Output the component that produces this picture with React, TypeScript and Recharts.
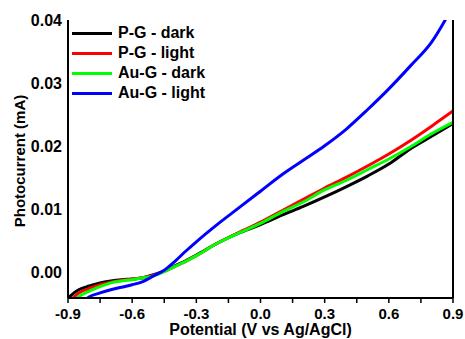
import { LineChart, Line, XAxis, YAxis, Legend } from "recharts"

// potential (V vs Ag/AgCl)
const potential = [
  -0.9, -0.85, -0.8, -0.75, -0.7, -0.65, -0.6, -0.55, -0.5, -0.45, -0.4, -0.35, -0.3,
  -0.2, -0.1, 0, 0.1, 0.2, 0.3, 0.4, 0.5, 0.6, 0.7, 0.8, 0.9,
]

// photocurrent (mA)
const pgDark = [
  -0.004, -0.0027, -0.0021, -0.0016, -0.0013, -0.0011, -0.001, -0.0008, -0.0003, 0.0003, 0.0011, 0.0019, 0.0028,
  0.0047, 0.0063, 0.0076, 0.0091, 0.0105, 0.012, 0.0136, 0.0153, 0.0172, 0.0196, 0.0216, 0.0236,
]
const pgLight = [
  -0.0048, -0.0032, -0.0025, -0.0019, -0.0015, -0.0012, -0.001, -0.0008, -0.0004, 0.0002, 0.001, 0.0018, 0.0027,
  0.0047, 0.0064, 0.0080, 0.0098, 0.0116, 0.0134, 0.0151, 0.0169, 0.0188, 0.0209, 0.0232, 0.0256,
]
const augDark = [
  -0.0055, -0.0038, -0.0029, -0.0022, -0.0016, -0.0013, -0.0011, -0.0008, -0.0005, 0.0002, 0.001, 0.0018, 0.0027,
  0.0047, 0.0063, 0.0078, 0.0096, 0.0112, 0.0131, 0.0146, 0.0163, 0.018, 0.0199, 0.022, 0.0238,
]
const augLight = [
  -0.0075, -0.0052, -0.0038, -0.0032, -0.0027, -0.0023, -0.0019, -0.0014, -0.0005, 0.0004, 0.0018, 0.0034, 0.0049,
  0.0077, 0.0103, 0.0129, 0.0155, 0.0178, 0.0201, 0.0227, 0.0258, 0.0291, 0.0327, 0.0365, 0.0422,
]

const seriesNames = ["P-G - dark", "P-G - light", "Au-G - dark", "Au-G - light"]
const seriesColors = ["#000000", "#ff0000", "#00ff00", "#0000ff"]
const seriesValues = [pgDark, pgLight, augDark, augLight]

const xTicks = [-0.9, -0.75, -0.6, -0.45, -0.3, -0.15, 0, 0.15, 0.3, 0.45, 0.6, 0.75, 0.9]
const xLabelTicks = [-0.9, -0.6, -0.3, 0, 0.3, 0.6, 0.9]
const yTicks = [0, 0.01, 0.02, 0.03, 0.04]
const yMinorTicks = [0, 0.005, 0.01, 0.015, 0.02, 0.025, 0.03, 0.035, 0.04]

const data = potential.map((x, i) => {
  const row: Record<string, number> = { x }
  seriesNames.forEach((name, s) => (row[name] = seriesValues[s][i]))
  return row
})

const font = "'Liberation Sans', Arial, sans-serif"
const tickStyle = { fontSize: 16, fontWeight: 700, fill: "#000", fontFamily: font }
const axisLine = { stroke: "#000", strokeWidth: 2 }

// legend keeps the series order (recharts would sort it by name)
function LegendBox() {
  return (
    <div style={{ fontFamily: font, fontWeight: 700, fontSize: 16, color: "#000", lineHeight: "20px" }}>
      {seriesNames.map((name, s) => (
        <div key={name} style={{ display: "flex", alignItems: "center", height: 20 }}>
          <span style={{ display: "inline-block", width: 40, height: 3, background: seriesColors[s], marginRight: 6 }} />
          <span>{name}</span>
        </div>
      ))}
    </div>
  )
}

export default function App() {
  return (
    <div style={{ position: "absolute", left: 0, top: 0, background: "#fff" }}>
      <LineChart width={465} height={339} data={data} margin={{ top: 20, right: 0, bottom: 0, left: 0 }}>
        <XAxis
          dataKey="x"
          type="number"
          domain={[-0.9, 0.9]}
          ticks={xTicks}
          allowDataOverflow
          height={41}
          tickSize={5}
          tickMargin={5}
          axisLine={axisLine}
          tickLine={{ stroke: "#000", strokeWidth: 1.5 }}
          tick={{ ...tickStyle, fontSize: 15 }}
          tickFormatter={(v: number) => (xLabelTicks.includes(v) ? v.toFixed(1) : "")}
          label={{
            value: "Potential (V vs Ag/AgCl)",
            position: "insideBottom",
            offset: 4,
            style: { ...tickStyle, fontSize: 16 },
          }}
        />
        <XAxis
          xAxisId="top"
          orientation="top"
          type="number"
          domain={[-0.9, 0.9]}
          ticks={xTicks}
          height={0}
          mirror
          tickSize={3}
          axisLine={axisLine}
          tickLine={{ stroke: "#000", strokeWidth: 1.5 }}
          tick={false}
        />
        <YAxis
          type="number"
          domain={[-0.004, 0.04]}
          ticks={yTicks}
          allowDataOverflow
          width={68}
          tickSize={4}
          tickMargin={2}
          tickLine={false}
          axisLine={axisLine}
          tick={tickStyle}
          tickFormatter={(v: number) => v.toFixed(2)}
          label={{
            value: "Photocurrent (mA)",
            angle: -90,
            position: "center",
            dx: -14,
            dy: 2,
            style: { ...tickStyle, fontSize: 15, textAnchor: "middle" },
          }}
        />
        <YAxis
          yAxisId="right"
          orientation="right"
          type="number"
          domain={[-0.004, 0.04]}
          ticks={yMinorTicks}
          allowDataOverflow
          width={12}
          tickSize={3}
          axisLine={axisLine}
          tickLine={{ stroke: "#000", strokeWidth: 1.5 }}
          tick={false}
        />
        <Legend
          layout="vertical"
          verticalAlign="middle"
          align="center"
          content={<LegendBox />}
          wrapperStyle={{ left: 72, top: 23, width: "auto" }}
        />
        {seriesNames.map((name, s) => (
          <Line
            key={name}
            dataKey={name}
            name={name}
            type="monotone"
            stroke={seriesColors[s]}
            strokeWidth={3}
            dot={false}
            isAnimationActive={false}
          />
        ))}
      </LineChart>
    </div>
  )
}
